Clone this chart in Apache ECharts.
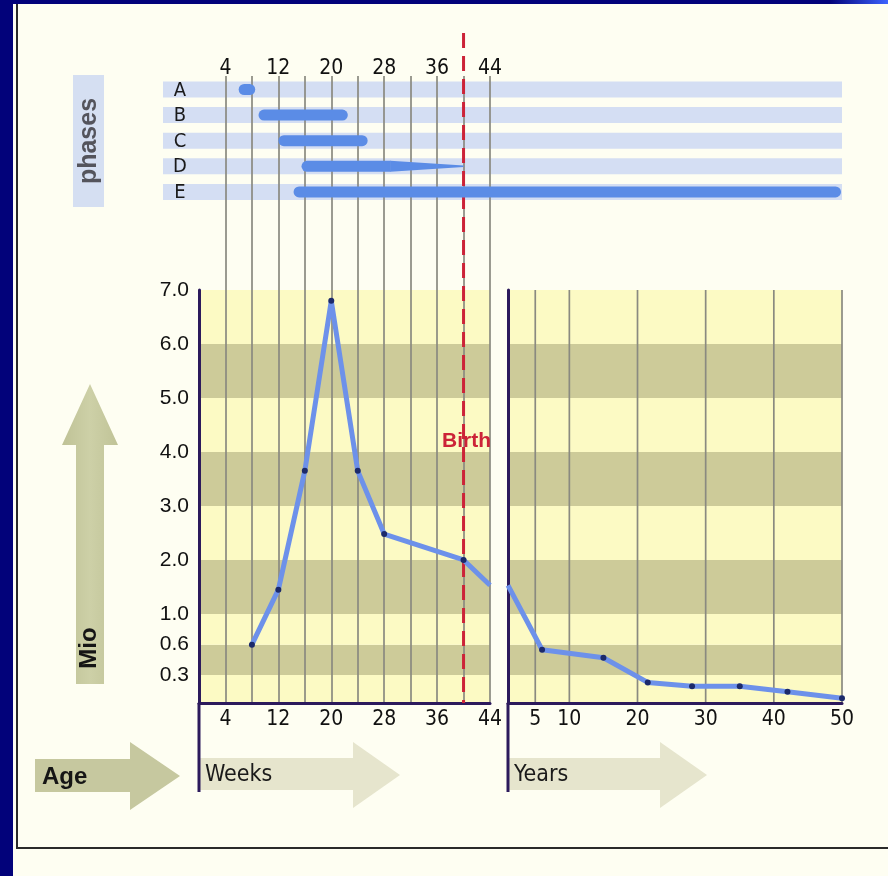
<!DOCTYPE html>
<html>
<head>
<meta charset="utf-8">
<script src="https://cdn.jsdelivr.net/npm/echarts@6/dist/echarts.min.js"></script>
<style>
html,body{margin:0;padding:0;background:#02027a;}
#c{width:888px;height:876px;}
</style>
</head>
<body>
<div id="c"></div>
<script>
// ---------------- data ----------------
const WEEK_TICKS = [4, 12, 20, 28, 36, 44];
const YEAR_TICKS = [5, 10, 20, 30, 40, 50];
const MIO_TICKS = [0.3, 0.6, 1.0, 2.0, 3.0, 4.0, 5.0, 6.0, 7.0];
const BIRTH_WEEK = 40;

const WEEKS       = [8, 12, 16, 20, 24, 28, 40, 44];
const MIO_BY_WEEK = [0.6, 1.45, 3.65, 6.8, 3.65, 2.48, 2.0, 1.53];
const WEEK_MARKED = [true, true, true, true, true, true, true, false];

const YEARS       = [1, 6, 15, 21.5, 28, 35, 42, 50];
const MIO_BY_YEAR = [1.53, 0.55, 0.47, 0.22, 0.18, 0.18, 0.12, 0.05];
const YEAR_MARKED = [false, true, true, true, true, true, true, true];

const PHASES      = ['A', 'B', 'C', 'D', 'E'];
const PHASE_START = [6, 9, 12, 15.5, 14.3];     // weeks
const PHASE_END   = [8.5, 22.5, 25.5, 40, null]; // null = lasts through the whole life span shown
const PHASE_TAPER = [null, null, null, 29, null]; // week where the bar begins to narrow

// ---------------- the picture's (non-uniform) Mio scale ----------------
const SCALE_V = [0, 0.3, 0.6, 1, 7];
const SCALE_P = [0, 0.52, 1.08, 1.65, 7.65];
function toPos(v) {
  for (let i = 0; i < SCALE_V.length - 1; i++) {
    if (v <= SCALE_V[i + 1] || i === SCALE_V.length - 2) {
      const t = (v - SCALE_V[i]) / (SCALE_V[i + 1] - SCALE_V[i]);
      return SCALE_P[i] + t * (SCALE_P[i + 1] - SCALE_P[i]);
    }
  }
}
const BAND_EDGES = [0].concat(MIO_TICKS);

// ---------------- styles ----------------
const NARROW = "'Liberation Sans Narrow','Arial Narrow','DejaVu Sans Condensed',sans-serif";
const SANS = "'Liberation Sans',Arial,sans-serif";
const PURPLE = '#2c1a5c';
const GRAY = '#8a8a80';
const LIGHT = '#fcfac4';
const DARK = '#cdcb99';
const RED = '#cc2338';
const CREAM = '#fefef2';
const KHAKI = '#c6c89f';
const PALE = '#e6e5cd';
const ROW_LEFT = 163, ROW_RIGHT = 842;

const weekFmt = v => (WEEK_TICKS.indexOf(v) >= 0 ? String(v) : '');
const yearFmt = v => (YEAR_TICKS.indexOf(v) >= 0 ? String(v) : '');
const mioFmt = v => {
  const t = MIO_TICKS.find(t => Math.abs(toPos(t) - v) < 1e-6);
  return t == null ? '' : t.toFixed(1);
};

function bandItem(params, api) {
  const i = params.dataIndex;
  const cs = params.coordSys;
  const yLo = api.coord([10, toPos(BAND_EDGES[i])])[1];
  const yHi = api.coord([10, toPos(BAND_EDGES[i + 1])])[1];
  return { type: 'rect', shape: { x: cs.x, y: yHi, width: cs.width, height: yLo - yHi },
           style: { fill: i % 2 ? DARK : LIGHT } };
}
const bandData = BAND_EDGES.slice(0, -1).map(v => [10, toPos(v)]);

const chart = echarts.init(document.getElementById('c'), null, { width: 888, height: 876 });

const option = {
  animation: false,
  backgroundColor: 'transparent',
  grid: [
    { left: 199, top: 290, width: 291, height: 413 },
    { left: 508, top: 290, width: 334, height: 413 },
    { left: 199, top: 76, width: 291, height: 214 }
  ],
  xAxis: [
    { type: 'value', gridIndex: 0, min: 0, max: 44, interval: 4, z: 3,
      axisLine: { show: true, onZero: false, lineStyle: { color: PURPLE, width: 3 } },
      axisTick: { show: false },
      axisLabel: { formatter: weekFmt, margin: 6, fontSize: 21, fontFamily: NARROW, color: '#111' },
      splitLine: { show: true, showMinLine: false, lineStyle: { color: GRAY, width: 1.7 } } },
    { type: 'value', gridIndex: 1, min: 1, max: 50, interval: 1, z: 3,
      axisLine: { show: true, onZero: false, lineStyle: { color: PURPLE, width: 3 } },
      axisTick: { show: false },
      axisLabel: { formatter: yearFmt, margin: 6, fontSize: 21, fontFamily: NARROW, color: '#111' },
      splitLine: { show: false } },
    { type: 'value', gridIndex: 2, min: 0, max: 44, interval: 4, position: 'top', z: 3,
      axisLine: { show: false }, axisTick: { show: false },
      axisLabel: { formatter: weekFmt, margin: -3, fontSize: 21, fontFamily: NARROW, color: '#111' },
      splitLine: { show: true, showMinLine: false, lineStyle: { color: GRAY, width: 1.7 } } }
  ],
  yAxis: [
    { type: 'value', gridIndex: 0, min: 0, max: 7.65, z: 4,
      axisLine: { show: true, onZero: false, lineStyle: { color: PURPLE, width: 3 } },
      axisTick: { show: false },
      axisLabel: { customValues: MIO_TICKS.map(toPos), formatter: mioFmt, margin: 10,
                   fontSize: 21, fontFamily: SANS, color: '#111' },
      splitLine: { show: false } },
    { type: 'value', gridIndex: 1, min: 0, max: 7.65, z: 4,
      axisLine: { show: true, onZero: false, lineStyle: { color: PURPLE, width: 3 } },
      axisTick: { show: false }, axisLabel: { show: false }, splitLine: { show: false } },
    { type: 'value', gridIndex: 2, min: -0.527, max: 7.832, inverse: true, show: false }
  ],
  series: [
    { type: 'custom', xAxisIndex: 0, yAxisIndex: 0, z: 1, silent: true, data: bandData, renderItem: bandItem },
    { type: 'custom', xAxisIndex: 1, yAxisIndex: 1, z: 1, silent: true, data: bandData, renderItem: bandItem },
    { type: 'custom', xAxisIndex: 1, yAxisIndex: 1, z: 2, silent: true,
      data: YEAR_TICKS.map(t => [t, 0]),
      renderItem(params, api) {
        const cs = params.coordSys;
        const x = api.coord([api.value(0), 0])[0];
        return { type: 'line', shape: { x1: x, y1: cs.y, x2: x, y2: cs.y + cs.height },
                 style: { stroke: GRAY, lineWidth: 1.7 } };
      } },
    // phase rows (background bands)
    { type: 'custom', xAxisIndex: 2, yAxisIndex: 2, z: 1, silent: true, clip: false,
      data: PHASES.map((p, i) => [PHASE_START[i], i]),
      renderItem(params, api) {
        const y = api.coord([0, params.dataIndex])[1];
        return { type: 'rect', shape: { x: ROW_LEFT, y: y - 8, width: ROW_RIGHT - ROW_LEFT, height: 16 },
                 style: { fill: '#d4def3' } };
      } },
    // phase bars + letters
    { type: 'custom', xAxisIndex: 2, yAxisIndex: 2, z: 5, silent: true, clip: false,
      data: PHASES.map((p, i) => [PHASE_START[i], i]),
      renderItem(params, api) {
        const i = params.dataIndex;
        const cs = params.coordSys;
        const y = api.coord([0, i])[1];
        const x0 = api.coord([PHASE_START[i], i])[0];
        const x1 = PHASE_END[i] == null ? ROW_RIGHT - 1 : api.coord([PHASE_END[i], i])[0];
        const h = 11, r = 5.5;
        const fill = '#5b8ce6';
        const children = [
          { type: 'text', style: { text: PHASES[i], x: cs.x - 19, y: y + 1, align: 'center', verticalAlign: 'middle',
                                   font: '20px ' + NARROW, fill: '#1a1a1a' } }
        ];
        if (PHASE_TAPER[i] != null) {
          const xt = api.coord([PHASE_TAPER[i], i])[0];
          children.push({ type: 'rect', shape: { x: x0, y: y - h / 2, width: xt - x0, height: h, r: [r, 0, 0, r] }, style: { fill } });
          children.push({ type: 'polygon', shape: { points: [[xt - 0.5, y - h / 2], [x1, y - 0.7], [x1, y + 0.7], [xt - 0.5, y + h / 2]] }, style: { fill } });
        } else {
          children.push({ type: 'rect', shape: { x: x0, y: y - h / 2, width: x1 - x0, height: h, r: r }, style: { fill } });
        }
        return { type: 'group', children };
      } },
    // birth line
    { type: 'custom', xAxisIndex: 0, yAxisIndex: 0, z: 4, silent: true, clip: false,
      data: [[BIRTH_WEEK, 0]],
      renderItem(params, api) {
        const cs = params.coordSys;
        const x = api.coord([api.value(0), 0])[0];
        const yText = api.coord([api.value(0), toPos(4.2)])[1];
        return { type: 'group', children: [
          { type: 'line', shape: { x1: x, y1: 33, x2: x, y2: cs.y + cs.height },
            style: { stroke: RED, lineWidth: 3, lineDash: [15, 8] } },
          { type: 'text', style: { text: 'Birth', x: x + 3, y: yText, align: 'center', verticalAlign: 'middle',
                                   font: 'bold 21px ' + SANS, fill: RED } }
        ] };
      } },
    { type: 'line', xAxisIndex: 0, yAxisIndex: 0, z: 6, clip: false,
      data: WEEKS.map((w, i) => ({ value: [w, toPos(MIO_BY_WEEK[i])], symbol: WEEK_MARKED[i] ? 'circle' : 'none' })),
      symbolSize: 6,
      lineStyle: { color: '#6d91ea', width: 5 },
      itemStyle: { color: '#1c2a6a' } },
    { type: 'line', xAxisIndex: 1, yAxisIndex: 1, z: 6, clip: false,
      data: YEARS.map((yv, i) => ({ value: [yv, toPos(MIO_BY_YEAR[i])], symbol: YEAR_MARKED[i] ? 'circle' : 'none' })),
      symbolSize: 6,
      lineStyle: { color: '#6d91ea', width: 5 },
      itemStyle: { color: '#1c2a6a' } }
  ],
  graphic: [
    { type: 'rect', z: -10, shape: { x: 13, y: 4, width: 875, height: 872 }, style: { fill: CREAM } },
    { type: 'rect', z: -10, shape: { x: 830, y: 0, width: 58, height: 4 },
      style: { fill: new echarts.graphic.LinearGradient(0, 0, 1, 0, [{ offset: 0, color: '#02027a' }, { offset: 1, color: '#3d63ff' }]) } },
    { type: 'line', z: -9, shape: { x1: 17, y1: 4, x2: 17, y2: 848 }, style: { stroke: '#2a2a2a', lineWidth: 2 } },
    { type: 'line', z: -9, shape: { x1: 16, y1: 848, x2: 888, y2: 848 }, style: { stroke: '#2a2a2a', lineWidth: 2 } },
    // phases box
    { type: 'rect', z: -9, shape: { x: 73, y: 75, width: 31, height: 132 }, style: { fill: '#d5dff2' } },
    { type: 'text', z: -8, x: 89, y: 141, rotation: Math.PI / 2,
      style: { text: 'phases', x: 0, y: 0, align: 'center', verticalAlign: 'middle', font: 'bold 25px ' + SANS, fill: '#54545c' } },
    // Mio arrow
    { type: 'polygon', z: -9,
      shape: { points: [[90, 384], [118, 445], [104, 445], [104, 684], [76, 684], [76, 445], [62, 445]] },
      style: { fill: new echarts.graphic.LinearGradient(0, 0, 1, 0, [{ offset: 0, color: '#bfc296' }, { offset: 0.5, color: '#cdd0a7' }, { offset: 1, color: '#c0c397' }]) } },
    { type: 'text', z: -8, x: 89, y: 648, rotation: Math.PI / 2,
      style: { text: 'Mio', x: 0, y: 0, align: 'center', verticalAlign: 'middle', font: 'bold 24px ' + SANS, fill: '#151515' } },
    // Age arrow
    { type: 'polygon', z: -9,
      shape: { points: [[35, 759], [130, 759], [130, 742], [180, 776], [130, 810], [130, 792], [35, 792]] },
      style: { fill: KHAKI } },
    { type: 'text', z: -8, style: { text: 'Age', x: 42, y: 777, align: 'left', verticalAlign: 'middle', font: 'bold 24px ' + SANS, fill: '#151515' } },
    // Weeks / Years arrows
    { type: 'polygon', z: -9,
      shape: { points: [[199, 758], [353, 758], [353, 742], [400, 775], [353, 808], [353, 790], [199, 790]] },
      style: { fill: PALE } },
    { type: 'polygon', z: -9,
      shape: { points: [[508, 758], [660, 758], [660, 742], [707, 775], [660, 808], [660, 790], [508, 790]] },
      style: { fill: PALE } },
    { type: 'text', z: -8, style: { text: 'Weeks', x: 205, y: 775, align: 'left', verticalAlign: 'middle', font: '23px ' + NARROW, fill: '#1a1a1a' } },
    { type: 'text', z: -8, style: { text: 'Years', x: 514, y: 775, align: 'left', verticalAlign: 'middle', font: '23px ' + NARROW, fill: '#1a1a1a' } },
    // axis extensions below the charts
    { type: 'line', z: 10, shape: { x1: 199, y1: 703, x2: 199, y2: 792 }, style: { stroke: PURPLE, lineWidth: 3 } },
    { type: 'line', z: 10, shape: { x1: 508, y1: 703, x2: 508, y2: 792 }, style: { stroke: PURPLE, lineWidth: 3 } }
  ]
};
chart.setOption(option);
</script>
</body>
</html>
